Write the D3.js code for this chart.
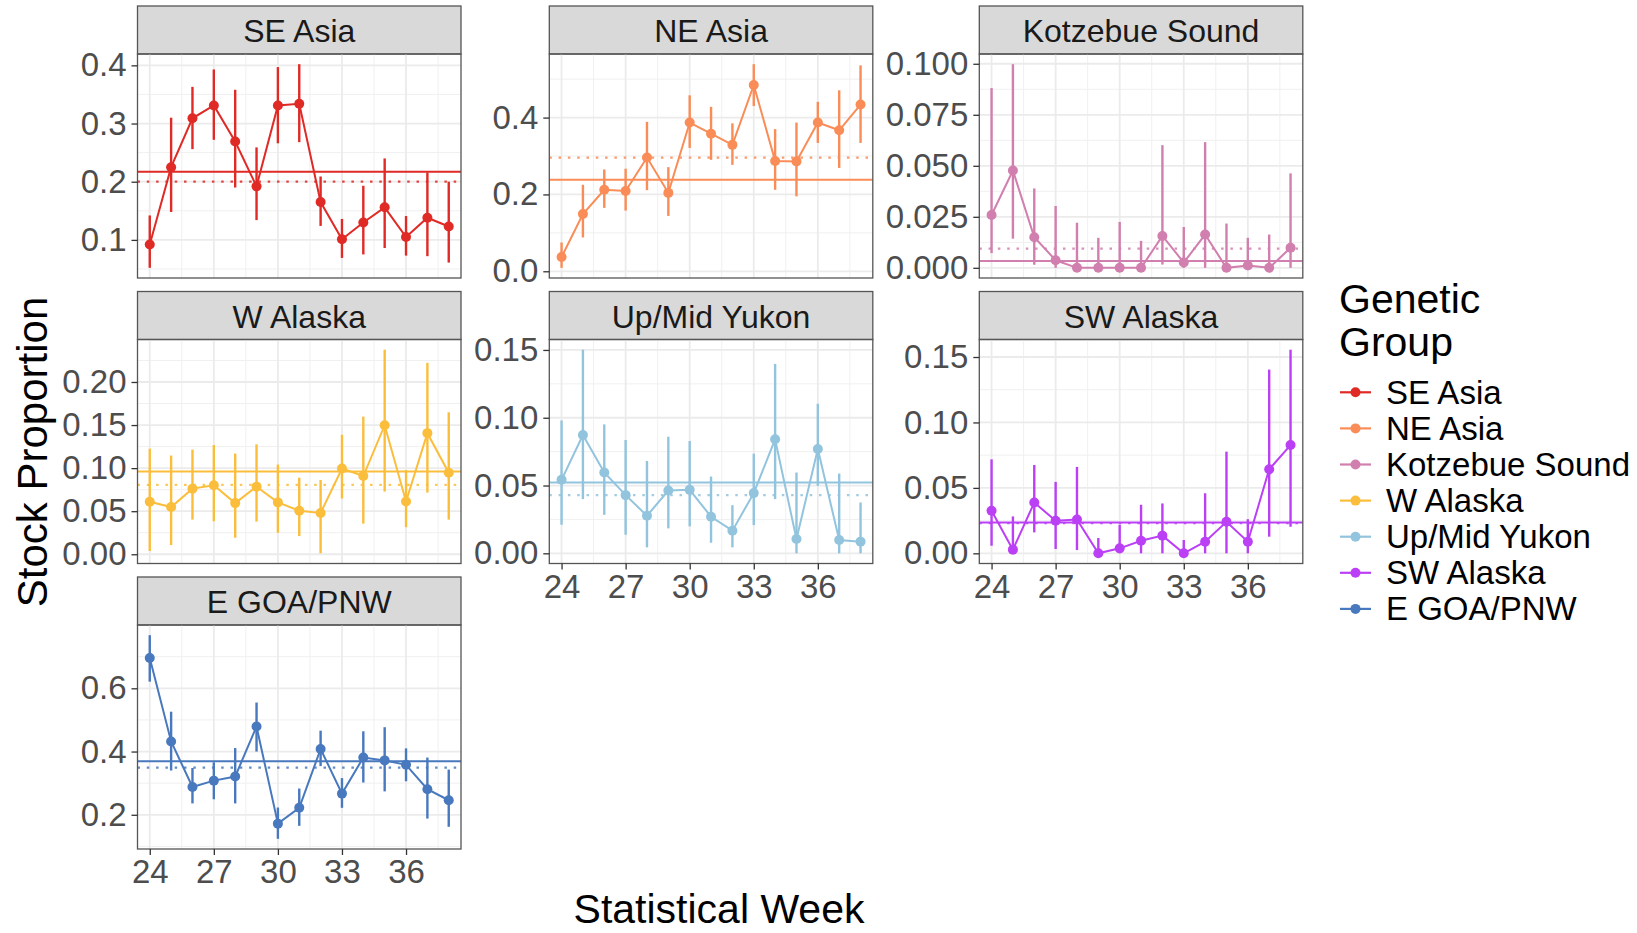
<!DOCTYPE html>
<html>
<head>
<meta charset="utf-8">
<script src="https://cdn.jsdelivr.net/npm/d3@7"></script>
<style>
  body { margin: 0; background: #fff; }
  text { font-family: "Liberation Sans", Arial, Helvetica, sans-serif; }
</style>
</head>
<body>
<div id="chart"></div>
<script>
const weeks = [24, 25, 26, 27, 28, 29, 30, 31, 32, 33, 34, 35, 36, 37, 38];
const xTicks = [24, 27, 30, 33, 36];

const groups = ["SE Asia", "NE Asia", "Kotzebue Sound", "W Alaska", "Up/Mid Yukon", "SW Alaska", "E GOA/PNW"];
const colors = ["#df2a26", "#f98c57", "#d17fae", "#fbbe3c", "#92c4de", "#bb40f5", "#4878bd"];

const seAsiaMean = [0.092, 0.225, 0.309, 0.331, 0.269, 0.192, 0.331, 0.334, 0.165, 0.101, 0.130, 0.156, 0.105, 0.138, 0.123];
const seAsiaLow = [0.052, 0.148, 0.256, 0.272, 0.190, 0.134, 0.266, 0.268, 0.124, 0.069, 0.075, 0.086, 0.073, 0.072, 0.061];
const seAsiaHigh = [0.142, 0.310, 0.363, 0.393, 0.358, 0.259, 0.397, 0.402, 0.209, 0.136, 0.193, 0.240, 0.141, 0.216, 0.200];

const neAsiaMean = [0.037, 0.149, 0.212, 0.209, 0.296, 0.204, 0.387, 0.358, 0.329, 0.485, 0.287, 0.286, 0.387, 0.367, 0.434];
const neAsiaLow = [0.009, 0.088, 0.165, 0.158, 0.211, 0.144, 0.321, 0.290, 0.277, 0.430, 0.212, 0.195, 0.334, 0.269, 0.334];
const neAsiaHigh = [0.075, 0.225, 0.265, 0.267, 0.389, 0.271, 0.458, 0.428, 0.385, 0.539, 0.370, 0.387, 0.441, 0.471, 0.536];

const kotzMean = [0.0259, 0.0477, 0.0150, 0.0037, 0, 0, 0, 0, 0.0156, 0.0026, 0.0163, 0, 0.0011, 0, 0.0098];
const kotzLow = [0.0072, 0.0143, 0.0015, 0, 0, 0, 0, 0, 0.0016, 0, 0, 0, 0, 0, 0];
const kotzHigh = [0.0881, 0.0998, 0.0389, 0.0303, 0.0221, 0.0147, 0.0225, 0.0132, 0.0601, 0.0200, 0.0616, 0.0217, 0.0147, 0.0163, 0.0463];

const wAkMean = [0.0609, 0.0548, 0.0762, 0.0801, 0.0594, 0.0785, 0.0602, 0.0506, 0.0479, 0.0996, 0.0908, 0.1498, 0.0613, 0.1406, 0.0946];
const wAkLow = [0.0038, 0.0107, 0.0402, 0.0383, 0.0192, 0.0379, 0.0249, 0.0211, 0.0011, 0.0648, 0.0356, 0.0728, 0.0314, 0.0716, 0.0402];
const wAkHigh = [0.1226, 0.1146, 0.1215, 0.1268, 0.1169, 0.1276, 0.1042, 0.0889, 0.0862, 0.1387, 0.1598, 0.2375, 0.0977, 0.2222, 0.1648];

const yukonMean = [0.0542, 0.0873, 0.0596, 0.0429, 0.0277, 0.0463, 0.0468, 0.0270, 0.0167, 0.0444, 0.0841, 0.0105, 0.0770, 0.0098, 0.0086];
const yukonLow = [0.0211, 0.0400, 0.0284, 0.0137, 0.0044, 0.0184, 0.0199, 0.0078, 0.0044, 0.0208, 0.0400, 0, 0.0498, 0, 0];
const yukonHigh = [0.0980, 0.1502, 0.0951, 0.0836, 0.0681, 0.0860, 0.0828, 0.0566, 0.0355, 0.0735, 0.1397, 0.0596, 0.1103, 0.0588, 0.0375];

const swAkMean = [0.0325, 0.0028, 0.0388, 0.0249, 0.0259, 0, 0.0038, 0.0096, 0.0135, 0, 0.0089, 0.0241, 0.0089, 0.0642, 0.0827];
const swAkLow = [0.0058, 0, 0.0160, 0.0033, 0.0025, 0, 0, 0, 0, 0, 0, 0, 0, 0.0127, 0.0203];
const swAkHigh = [0.0718, 0.0282, 0.0675, 0.0546, 0.0660, 0.0117, 0.0218, 0.0371, 0.0381, 0.0102, 0.0459, 0.0777, 0.0261, 0.1404, 0.1556];

const eGoaMean = [0.696, 0.432, 0.288, 0.308, 0.321, 0.479, 0.172, 0.222, 0.408, 0.267, 0.381, 0.372, 0.358, 0.281, 0.246];
const eGoaLow = [0.621, 0.340, 0.236, 0.249, 0.236, 0.400, 0.124, 0.165, 0.354, 0.222, 0.302, 0.274, 0.306, 0.188, 0.162];
const eGoaHigh = [0.768, 0.526, 0.348, 0.366, 0.411, 0.555, 0.223, 0.283, 0.466, 0.316, 0.464, 0.477, 0.410, 0.381, 0.343];

// horizontal reference lines per group
const solidLine = [0.217, 0.238, 0.0034, 0.0962, 0.0522, 0.0236, 0.369];
const dottedLine = [0.200, 0.296, 0.0094, 0.0805, 0.0429, 0.0231, 0.349];

const yTickLabels = [
    ["0.1", "0.2", "0.3", "0.4"],
    ["0.0", "0.2", "0.4"],
    ["0.000", "0.025", "0.050", "0.075", "0.100"],
    ["0.00", "0.05", "0.10", "0.15", "0.20"],
    ["0.00", "0.05", "0.10", "0.15"],
    ["0.00", "0.05", "0.10", "0.15"],
    ["0.2", "0.4", "0.6"],
];

const means = [seAsiaMean, neAsiaMean, kotzMean, wAkMean, yukonMean, swAkMean, eGoaMean];
const lows = [seAsiaLow, neAsiaLow, kotzLow, wAkLow, yukonLow, swAkLow, eGoaLow];
const highs = [seAsiaHigh, neAsiaHigh, kotzHigh, wAkHigh, yukonHigh, swAkHigh, eGoaHigh];

const width = 1637;
const height = 933;
const colX = [137.5, 549.3, 979.3];
const rowY = [6, 291.5, 577];
const panelW = 323.5;
const panelH = 224;
const stripH = 48;

const svg = d3
    .select("#chart")
    .append("svg")
    .attr("width", width)
    .attr("height", height);

svg.append("rect").attr("width", width).attr("height", height).attr("fill", "#fff");

const x = d3.scaleLinear().domain([24 - 14 * 0.041, 38 + 14 * 0.041]).range([0, panelW]);
const xMinor = [25.5, 28.5, 31.5, 34.5, 37.5];

groups.forEach((name, i) => {
    const col = i % 3;
    const row = Math.floor(i / 3);
    const color = colors[i];
    const rows = weeks.map((w, j) => ({ week: w, mean: means[i][j], lo: lows[i][j], hi: highs[i][j] }));

    const lo = d3.min(rows, (d) => d.lo);
    const hi = d3.max(rows, (d) => d.hi);
    const pad = (hi - lo) * 0.05;
    const y = d3.scaleLinear().domain([lo - pad, hi + pad]).range([panelH, 0]);

    const ticks = yTickLabels[i].map((t) => +t);
    const step = ticks[1] - ticks[0];
    const yMinor = d3.range(ticks[0] - step / 2, hi + pad, step).filter((v) => v > lo - pad);

    const strip = svg.append("g").attr("transform", `translate(${colX[col]}, ${rowY[row]})`);
    strip.append("rect")
        .attr("width", panelW)
        .attr("height", stripH)
        .attr("fill", "#d9d9d9")
        .attr("stroke", "#555")
        .attr("stroke-width", 1.3);
    strip.append("text")
        .attr("x", panelW / 2)
        .attr("y", stripH / 2 + 1)
        .attr("text-anchor", "middle")
        .attr("dominant-baseline", "central")
        .attr("font-size", "32px")
        .attr("fill", "#1a1a1a")
        .text(name);

    const g = svg.append("g").attr("transform", `translate(${colX[col]}, ${rowY[row] + stripH})`);

    // grid
    g.selectAll(".yminor").data(yMinor).enter().append("line")
        .attr("x1", 0).attr("x2", panelW)
        .attr("y1", (d) => y(d)).attr("y2", (d) => y(d))
        .attr("stroke", "#f0f0f0").attr("stroke-width", 1);
    g.selectAll(".xminor").data(xMinor).enter().append("line")
        .attr("y1", 0).attr("y2", panelH)
        .attr("x1", (d) => x(d)).attr("x2", (d) => x(d))
        .attr("stroke", "#f0f0f0").attr("stroke-width", 1);
    g.selectAll(".ymajor").data(ticks).enter().append("line")
        .attr("x1", 0).attr("x2", panelW)
        .attr("y1", (d) => y(d)).attr("y2", (d) => y(d))
        .attr("stroke", "#ebebeb").attr("stroke-width", 1.8);
    g.selectAll(".xmajor").data(xTicks).enter().append("line")
        .attr("y1", 0).attr("y2", panelH)
        .attr("x1", (d) => x(d)).attr("x2", (d) => x(d))
        .attr("stroke", "#ebebeb").attr("stroke-width", 1.8);

    // reference lines
    g.append("line")
        .attr("x1", 0).attr("x2", panelW)
        .attr("y1", y(dottedLine[i])).attr("y2", y(dottedLine[i]))
        .attr("stroke", color).attr("stroke-width", 2.2)
        .attr("stroke-dasharray", "2.5,6.8")
        .attr("opacity", 0.85);
    g.append("line")
        .attr("x1", 0).attr("x2", panelW)
        .attr("y1", y(solidLine[i])).attr("y2", y(solidLine[i]))
        .attr("stroke", color).attr("stroke-width", 2);

    // error bars
    g.selectAll(".err").data(rows).enter().append("line")
        .attr("x1", (d) => x(d.week)).attr("x2", (d) => x(d.week))
        .attr("y1", (d) => y(d.lo)).attr("y2", (d) => y(d.hi))
        .attr("stroke", color).attr("stroke-width", 2.4);

    const valueLine = d3.line().x((d) => x(d.week)).y((d) => y(d.mean));
    g.append("path")
        .attr("d", valueLine(rows))
        .attr("fill", "none")
        .attr("stroke", color)
        .attr("stroke-width", 2);

    g.selectAll(".pt").data(rows).enter().append("circle")
        .attr("cx", (d) => x(d.week))
        .attr("cy", (d) => y(d.mean))
        .attr("r", 5)
        .attr("fill", color);

    g.append("rect")
        .attr("width", panelW)
        .attr("height", panelH)
        .attr("fill", "none")
        .attr("stroke", "#555")
        .attr("stroke-width", 1.3);

    // y axis
    const yAxis = d3.axisLeft(y)
        .tickValues(ticks)
        .tickFormat((d, k) => yTickLabels[i][k])
        .tickSize(6)
        .tickPadding(5);
    const ya = g.append("g").call(yAxis);
    ya.select(".domain").remove();
    ya.selectAll("line").attr("stroke", "#333").attr("stroke-width", 1.3);
    ya.selectAll("text").attr("font-size", "33px").attr("fill", "#4d4d4d")
        .attr("font-family", '"Liberation Sans", Arial, sans-serif');

    // x axis only at the bottom of each column
    if (i + 3 >= groups.length) {
        const xAxis = d3.axisBottom(x).tickValues(xTicks).tickSize(6).tickPadding(5);
        const xa = g.append("g").attr("transform", `translate(0, ${panelH})`).call(xAxis);
        xa.select(".domain").remove();
        xa.selectAll("line").attr("stroke", "#333").attr("stroke-width", 1.3);
        xa.selectAll("text").attr("font-size", "33px").attr("fill", "#4d4d4d")
            .attr("font-family", '"Liberation Sans", Arial, sans-serif');
    }
});

// axis titles
svg.append("text")
    .attr("transform", "translate(47, 452) rotate(-90)")
    .attr("text-anchor", "middle")
    .attr("font-size", "42px")
    .attr("fill", "#000")
    .text("Stock Proportion");

svg.append("text")
    .attr("x", 719)
    .attr("y", 923)
    .attr("text-anchor", "middle")
    .attr("font-size", "41px")
    .attr("fill", "#000")
    .text("Statistical Week");

// legend
const legend = svg.append("g").attr("transform", "translate(1339, 0)");
legend.append("text").attr("x", 0).attr("y", 313).attr("font-size", "41px").text("Genetic");
legend.append("text").attr("x", 0).attr("y", 356).attr("font-size", "41px").text("Group");

const keys = legend.selectAll(".key").data(groups).enter().append("g")
    .attr("transform", (d, k) => `translate(0, ${392.3 + k * 36.1})`);
keys.append("line")
    .attr("x1", 1).attr("x2", 32)
    .attr("stroke", (d, k) => colors[k]).attr("stroke-width", 2.2);
keys.append("circle")
    .attr("cx", 16.5).attr("r", 5)
    .attr("fill", (d, k) => colors[k]);
keys.append("text")
    .attr("x", 47)
    .attr("dominant-baseline", "central")
    .attr("font-size", "33px")
    .attr("fill", "#000")
    .text((d) => d);
</script>
</body>
</html>
